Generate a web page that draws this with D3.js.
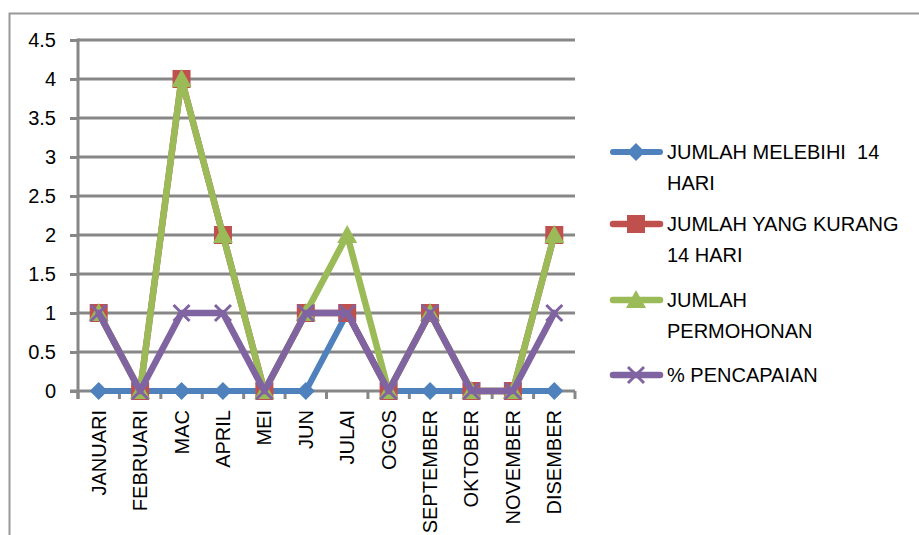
<!DOCTYPE html>
<html>
<head>
<meta charset="utf-8">
<script src="https://cdn.jsdelivr.net/npm/d3@7"></script>
<style>
  html, body { margin: 0; padding: 0; background: #fff; }
  svg { display: block; font-family: "Liberation Sans", Arial, sans-serif; }
  text { white-space: pre; }
</style>
</head>
<body>
<svg id="chart" width="919" height="535"></svg>
<script>
// Monthly counts
const months = ["JANUARI", "FEBRUARI", "MAC", "APRIL", "MEI", "JUN", "JULAI", "OGOS", "SEPTEMBER", "OKTOBER", "NOVEMBER", "DISEMBER"];
const melebihi14 = [0, 0, 0, 0, 0, 0, 1, 0, 0, 0, 0, 0];
const kurang14 = [1, 0, 4, 2, 0, 1, 1, 0, 1, 0, 0, 2];
const permohonan = [1, 0, 4, 2, 0, 1, 2, 0, 1, 0, 0, 2];
const pencapaian = [1, 0, 1, 1, 0, 1, 1, 0, 1, 0, 0, 1];
const yTicks = [0, 0.5, 1, 1.5, 2, 2.5, 3, 3.5, 4, 4.5];
const seriesNames = [["JUMLAH MELEBIHI  14", "HARI"], ["JUMLAH YANG KURANG", "14 HARI"], ["JUMLAH", "PERMOHONAN"], ["% PENCAPAIAN"]];

const series = [
  { values: melebihi14, color: "#4F81BD", marker: "diamond", width: 6 },
  { values: kurang14, color: "#C0504D", marker: "square", width: 6.5 },
  { values: permohonan, color: "#9BBB59", marker: "triangle", width: 6.5 },
  { values: pencapaian, color: "#8064A2", marker: "x", width: 6.5 }
];

const svg = d3.select("#chart");
const grid = "#878787";
const fontSize = 20;

// outer frame
svg.append("path").attr("d", "M9.5,535 V13.5 H919")
  .attr("fill", "none").attr("stroke", "#999").attr("stroke-width", 2);

const plot = { left: 78, right: 575, top: 40, bottom: 391 };

const x = d3.scaleBand().domain(months).range([plot.left, plot.right]);
const y = d3.scaleLinear().domain([0, 4.5]).range([plot.bottom, plot.top]);

// horizontal gridlines
svg.append("g").selectAll("line").data(yTicks.filter(d => d > 0)).join("line")
  .attr("x1", plot.left).attr("x2", plot.right)
  .attr("y1", d => y(d)).attr("y2", d => y(d))
  .attr("stroke", grid).attr("stroke-width", 3);

// y axis
const yAxis = svg.append("g").attr("transform", `translate(${plot.left},0)`)
  .call(d3.axisLeft(y).tickValues(yTicks).tickSize(8).tickPadding(14).tickFormat(d3.format("")));
yAxis.select(".domain").attr("stroke", grid).attr("stroke-width", 3)
  .attr("d", `M0,${plot.top - 1.5}V${plot.bottom + 8}`);
yAxis.selectAll(".tick line").attr("stroke", grid).attr("stroke-width", 3);
yAxis.selectAll(".tick text").attr("font-size", fontSize).attr("fill", "#000")
  .attr("font-family", "Liberation Sans, Arial, sans-serif");

// x axis with boundary ticks
const xAxisG = svg.append("g").attr("transform", `translate(0,${plot.bottom})`);
xAxisG.append("line").attr("x1", plot.left - 8).attr("x2", plot.right)
  .attr("stroke", grid).attr("stroke-width", 3);
const bounds = months.map(m => x(m)).concat([plot.right]);
xAxisG.selectAll("line.b").data(bounds).join("line").attr("class", "b")
  .attr("x1", d => d).attr("x2", d => d).attr("y1", 0).attr("y2", 8)
  .attr("stroke", grid).attr("stroke-width", 3);
xAxisG.selectAll("text").data(months).join("text")
  .attr("transform", d => `translate(${x(d) + x.bandwidth() / 2 + 7},19) rotate(-90)`)
  .attr("text-anchor", "end").attr("font-size", fontSize).attr("fill", "#000")
  .text(d => d);

// markers
function drawMarker(g, type, color, cx, cy) {
  if (type === "diamond") {
    const r = 9;
    g.append("path").attr("d", `M${cx},${cy - r}L${cx + r},${cy}L${cx},${cy + r}L${cx - r},${cy}Z`).attr("fill", color);
  } else if (type === "square") {
    const s = 18;
    g.append("rect").attr("x", cx - s / 2).attr("y", cy - s / 2).attr("width", s).attr("height", s).attr("fill", color);
  } else if (type === "triangle") {
    const s = 10;
    g.append("path").attr("d", `M${cx},${cy - s}L${cx + s},${cy + s * 0.8}L${cx - s},${cy + s * 0.8}Z`).attr("fill", color);
  } else if (type === "x") {
    const s = 8;
    g.append("path").attr("d", `M${cx - s},${cy - s}L${cx + s},${cy + s}M${cx + s},${cy - s}L${cx - s},${cy + s}`)
      .attr("stroke", color).attr("stroke-width", 3);
  }
}

const line = d3.line().x((d, i) => x(months[i]) + x.bandwidth() / 2).y(d => y(d));
series.forEach(s => {
  const g = svg.append("g");
  g.append("path").datum(s.values).attr("d", line).attr("fill", "none")
    .attr("stroke", s.color).attr("stroke-width", s.width).attr("stroke-linejoin", "round").attr("stroke-linecap", "round");
  s.values.forEach((v, i) => drawMarker(g, s.marker, s.color, x(months[i]) + x.bandwidth() / 2, y(v)));
});

// legend
const legendY = [152, 224, 300, 375];
series.forEach((s, i) => {
  const g = svg.append("g").attr("transform", `translate(0,${legendY[i]})`);
  g.append("line").attr("x1", 613).attr("x2", 660).attr("stroke", s.color)
    .attr("stroke-width", s.width).attr("stroke-linecap", "round");
  drawMarker(g, s.marker, s.color, 636, 0);
  seriesNames[i].forEach((t, j) => {
    g.append("text").attr("x", 667).attr("y", j * 31 + 7).attr("font-size", fontSize).attr("fill", "#000").text(t);
  });
});
</script>
</body>
</html>
